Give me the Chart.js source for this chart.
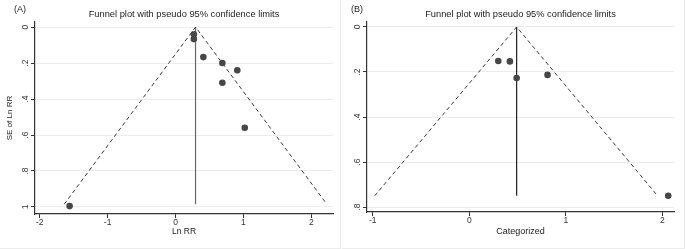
<!DOCTYPE html>
<html>
<head>
<meta charset="utf-8">
<script src="https://cdn.jsdelivr.net/npm/chart.js@4.4.1/dist/chart.umd.min.js"></script>
<style>
  html, body { margin: 0; padding: 0; background: #fff; }
  body { width: 685px; height: 249px; position: relative; overflow: hidden; }
  .panel { position: absolute; top: 0; height: 248px; border-right: 1px solid #ececec; border-bottom: 1px solid #ececec; }
  .panel canvas { display: block; }
  #panelA { left: 0; width: 340px; }
  #panelB { left: 342px; width: 342px; }
</style>
</head>
<body>
<div class="panel" id="panelA"><canvas id="chartA" width="340" height="249"></canvas></div>
<div class="panel" id="panelB"><canvas id="chartB" width="342" height="249"></canvas></div>
<script>
// (A) Ln RR of each study against its standard error
const lnRrA = [0.27, 0.27, 0.41, 0.69, 0.91, 0.69, 1.02, -1.56];
const seA = [0.04, 0.067, 0.167, 0.20, 0.24, 0.31, 0.56, 0.995];
// pseudo 95% limits: left end, pooled estimate, right end
const limitXA = [-1.64, 0.295, 2.23];
const limitSeA = [0.985, 0, 0.985];
const xTicksA = [-2, -1, 0, 1, 2];
const yTicksA = [0, 0.2, 0.4, 0.6, 0.8, 1];
const yLabelsA = ['0', '.2', '.4', '.6', '.8', '1'];

// (B) categorized
const catB = [0.30, 0.42, 0.49, 0.81, 2.06];
const seB = [0.151, 0.153, 0.227, 0.213, 0.75];
const limitXB = [-0.98, 0.49, 1.95];
const limitSeB = [0.75, 0, 0.75];
const xTicksB = [-1, 0, 1, 2];
const yTicksB = [0, 0.2, 0.4, 0.6, 0.8];
const yLabelsB = ['0', '.2', '.4', '.6', '.8'];

Chart.defaults.font.family = '"Liberation Sans", Arial, sans-serif';
Chart.defaults.color = '#333';

const panelText = {
    id: 'panelText',
    afterDraw: function (chart, args, opts) {
        const ctx = chart.ctx;
        const area = chart.chartArea;
        ctx.save();
        ctx.fillStyle = '#222';
        ctx.textBaseline = 'middle';
        ctx.font = '9.3px "Liberation Sans", Arial, sans-serif';
        ctx.textAlign = 'center';
        ctx.fillText(opts.title, (area.left + area.right) / 2, 14);
        ctx.font = '9px "Liberation Sans", Arial, sans-serif';
        ctx.textAlign = 'left';
        ctx.fillText(opts.tag, opts.tagX, 10);
        ctx.restore();
    }
};

function points(xs, ys) {
    return xs.map((x, i) => ({ x: x, y: ys[i] }));
}

function makeFunnel(canvasId, p) {
    const datasets = [
        {
            data: points(p.xs, p.ses),
            pointRadius: 3.3,
            pointBackgroundColor: '#474747',
            pointBorderWidth: 0
        },
        {
            data: points(p.limitX, p.limitSe),
            showLine: true,
            borderColor: '#383838',
            borderWidth: 1,
            borderDash: [4, 3],
            pointRadius: 0
        },
        {
            data: points([p.limitX[1], p.limitX[1]], [p.limitSe[1], p.limitSe[0]]),
            showLine: true,
            borderColor: p.midColor,
            borderWidth: 1.2,
            pointRadius: 0
        }
    ];

    const config = {
        type: 'scatter',
        data: { datasets: datasets },
        options: {
            responsive: false,
            animation: false,
            events: [],
            layout: { padding: { left: 0, right: p.padRight, top: 22, bottom: 0 } },
            scales: {
                x: {
                    type: 'linear',
                    min: p.xMin,
                    max: p.xMax,
                    afterBuildTicks: function (scale) {
                        scale.ticks = p.xTicks.map(v => ({ value: v }));
                    },
                    afterFit: function (scale) { scale.height = p.xHeight; },
                    grid: { drawOnChartArea: false, tickLength: 4, tickColor: '#333' },
                    border: { display: true, color: '#333', width: 1.2 },
                    ticks: { padding: 0, maxRotation: 0, font: { size: 8.5 }, color: '#333' },
                    title: {
                        display: true,
                        text: p.xTitle,
                        font: { size: p.xTitleSize },
                        color: '#222',
                        padding: { top: 0, bottom: 12 }
                    }
                },
                y: {
                    type: 'linear',
                    reverse: true,
                    min: p.yMin,
                    max: p.yMax,
                    afterBuildTicks: function (scale) {
                        scale.ticks = p.yTicks.map(v => ({ value: v }));
                    },
                    afterFit: function (scale) { scale.width = p.yWidth; },
                    grid: { color: '#ececec', tickLength: 4, tickColor: '#333' },
                    border: { display: true, color: '#333', width: 1.2 },
                    ticks: {
                        minRotation: 90,
                        maxRotation: 90,
                        crossAlign: 'center',
                        padding: 2,
                        font: { size: 8.5 },
                        color: '#333',
                        callback: function (value) {
                            return p.yLabels[p.yTicks.indexOf(value)];
                        }
                    },
                    title: {
                        display: p.yTitle !== '',
                        text: p.yTitle,
                        font: { size: 8 },
                        color: '#222',
                        padding: { top: 5, bottom: 0 }
                    }
                }
            },
            plugins: {
                legend: { display: false },
                tooltip: { enabled: false },
                panelText: { title: 'Funnel plot with pseudo 95% confidence limits', tag: p.tag, tagX: p.tagX }
            }
        },
        plugins: [panelText]
    };

    return new Chart(document.getElementById(canvasId).getContext('2d'), config);
}

makeFunnel('chartA', {
    xs: lnRrA, ses: seA, limitX: limitXA, limitSe: limitSeA,
    xTicks: xTicksA, yTicks: yTicksA, yLabels: yLabelsA,
    xMin: -2.07, xMax: 2.32, yMin: -0.028, yMax: 1.039,
    xHeight: 35, yWidth: 35, padRight: 7,
    xTitle: 'Ln RR', xTitleSize: 8.5, yTitle: 'SE of Ln RR',
    midColor: '#666', tag: '(A)', tagX: 14
});

makeFunnel('chartB', {
    xs: catB, ses: seB, limitX: limitXB, limitSe: limitSeB,
    xTicks: xTicksB, yTicks: yTicksB, yLabels: yLabelsB,
    xMin: -1.06, xMax: 2.12, yMin: -0.022, yMax: 0.822,
    xHeight: 37, yWidth: 25, padRight: 10,
    xTitle: 'Categorized', xTitleSize: 9, yTitle: '',
    midColor: '#222', tag: '(B)', tagX: 9
});
</script>
</body>
</html>
